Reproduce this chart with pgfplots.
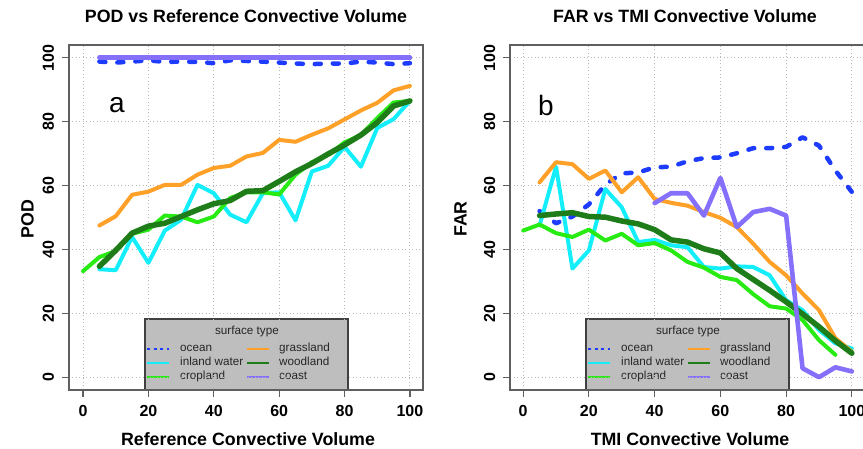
\documentclass[border=0pt]{standalone}
\usepackage{pgfplots}
\pgfplotsset{compat=1.18}
\usepackage{fontspec}
\setmainfont{Liberation Sans}

% series colours
\definecolor{cOcean}{RGB}{30,60,255}
\definecolor{cCoast}{RGB}{132,112,250}
\definecolor{cInland}{RGB}{20,238,250}
\definecolor{cCrop}{RGB}{40,235,20}
\definecolor{cGrass}{RGB}{255,160,40}
\definecolor{cWood}{RGB}{30,125,25}
\definecolor{legfill}{RGB}{190,190,190}
\definecolor{framecol}{RGB}{95,95,95}

\newcommand\tickfont{\fontsize{16}{18}\selectfont\bfseries}
\newcommand\labfont{\fontsize{17.8}{20}\selectfont\bfseries}
\newcommand\legfont{\fontsize{11.7}{13}\selectfont}

\pgfplotsset{
  panel/.style={
    scale only axis, height=345pt,
    ymin=-4, ymax=104,
    xtick={0,20,...,100}, ytick={0,20,...,100},
    tick pos=left,
    tick align=outside, major tick length=7pt,
    grid=major,
    grid style={draw=black!28, line width=0.9pt, dash pattern=on 1pt off 2.5pt},
    axis line style={draw=framecol, line width=1.4pt},
    tick style={draw=framecol, line width=1.2pt},
    /pgf/number format/assume math mode=true,
    ticklabel style={font=\tickfont},
    xticklabel style={anchor=base},
    xticklabel shift=20pt,
    yticklabel style={rotate=90, anchor=base},
    yticklabel shift=8pt,
    every axis plot/.append style={line cap=round, line join=round},
  },
  sOcean/.style={cOcean, line width=4.5pt, dash pattern=on 6pt off 12pt},
  sCoast/.style={cCoast, line width=4.6pt},
  sInland/.style={cInland, line width=4pt},
  sCrop/.style={cCrop, line width=4pt},
  sGrass/.style={cGrass, line width=4pt},
  sWood/.style={cWood, line width=5.5pt},
}

% legend block: #1 = left edge of the grey box
\newcommand\surfacelegend[1]{%
  \fill[legfill] (#1,59) rectangle (#1+203,130);
  \draw[black!75, line width=1.2pt] (#1,59) -- (#1,130) -- (#1+203,130) -- (#1+203,59);
  \node[font=\legfont, text=black!85, inner sep=0pt] at (#1+102,118) {surface type};
  \draw[cOcean, line width=2pt, dash pattern=on 3pt off 3.5pt] (#1+2,100) -- (#1+24,100);
  \draw[cInland, line width=2pt] (#1+2,86) -- (#1+24,86);
  \draw[cCrop, line width=2pt] (#1+2,72) -- (#1+24,72);
  \draw[cGrass, line width=2pt] (#1+102,100) -- (#1+124,100);
  \draw[cWood, line width=2pt] (#1+102,86) -- (#1+124,86);
  \draw[cCoast, line width=2pt] (#1+102,72) -- (#1+124,72);
  \begin{scope}[every node/.style={font=\legfont, text=black!85, inner sep=0pt, anchor=mid west}]
    \node at (#1+35,100) {ocean};
    \node at (#1+35,86) {inland water};
    \node at (#1+35,72) {cropland};
    \node at (#1+134,100) {grassland};
    \node at (#1+134,86) {woodland};
    \node at (#1+134,72) {coast};
  \end{scope}
}

\begin{document}
\begin{tikzpicture}[x=1pt, y=1pt]
\useasboundingbox (0,0) rectangle (863,449);
\clip (0,0) rectangle (863,449);

\surfacelegend{145}
\surfacelegend{586}

% ---------------- POD panel ----------------
\begin{axis}[panel, at={(69pt,59pt)}, anchor=south west,
  width=354pt, xmin=-4.3, xmax=104]
\addplot[sOcean] coordinates {
 (5,98.8) (10,98.5) (15,98.8) (20,99.2) (25,98.7) (30,98.8) (35,98.7)
 (40,98.3) (45,99.2) (50,99.0) (55,98.8) (60,98.5) (65,98.2) (70,98.0)
 (75,98.2) (80,98.2) (85,98.8) (90,98.5) (95,98.0) (100,98.3)};
\addplot[sInland] coordinates {
 (5,33.8) (10,33.5) (15,43.9) (20,35.8) (25,45.9) (30,49.3) (35,60.2)
 (40,57.6) (45,50.9) (50,48.5) (55,57.6) (60,57.9) (65,49.1) (70,64.4)
 (75,66.2) (80,72.1) (85,65.9) (90,78.0) (95,80.8) (100,86.5)};
\addplot[sCrop] coordinates {
 (0,33.2) (5,37.6) (10,39.5) (15,44.9) (20,46.2) (25,50.6) (30,50.3)
 (35,48.5) (40,50.3) (45,56.1) (50,57.9) (55,57.9) (60,57.2) (65,63.4)
 (70,67.3) (75,69.6) (80,73.5) (85,75.8) (90,81.1) (95,86.0) (100,86.5)};
\addplot[sGrass] coordinates {
 (5,47.5) (10,50.4) (15,57.1) (20,58.1) (25,60.2) (30,60.2) (35,63.4)
 (40,65.5) (45,66.2) (50,69.1) (55,70.2) (60,74.3) (65,73.7) (70,75.9)
 (75,77.9) (80,80.7) (85,83.5) (90,85.9) (95,89.8) (100,91.2)};
\addplot[sWood] coordinates {
 (5,34.7) (10,39.7) (15,45.1) (20,47.3) (25,48.2) (30,50.3) (35,52.4)
 (40,54.3) (45,55.3) (50,58.2) (55,58.4) (60,61.3) (65,64.3) (70,66.9)
 (75,69.9) (80,72.7) (85,75.8) (90,79.7) (95,84.9) (100,86.5)};
\addplot[sCoast] coordinates {
 (5,100) (10,100) (15,100) (20,100) (25,100) (30,100) (35,100)
 (40,100) (45,100) (50,100) (55,100) (60,100) (65,100) (70,100)
 (75,100) (80,100) (85,100) (90,100) (95,100) (100,100)};
\end{axis}

% ---------------- FAR panel ----------------
\begin{axis}[panel, at={(510pt,59pt)}, anchor=south west,
  width=355pt, xmin=-4, xmax=104]
\addplot[sOcean] coordinates {
 (5,52.0) (10,48.2) (15,50.3) (20,54.1) (25,60.3) (30,63.8) (35,64.1)
 (40,65.7) (45,65.9) (50,67.6) (55,68.6) (60,68.8) (65,70.1) (70,71.7)
 (75,71.7) (80,72.1) (85,75.1) (90,72.5) (95,64.7) (100,58.0)};
\addplot[sInland] coordinates {
 (5,47.5) (10,65.9) (15,34.0) (20,39.7) (25,58.9) (30,53.2) (35,42.3)
 (40,43.0) (45,41.3) (50,40.7) (55,34.5) (60,34.0) (65,34.7) (70,34.5)
 (75,31.9) (80,24.1) (85,21.0) (90,14.8) (95,10.6) (100,9.0)};
\addplot[sCrop] coordinates {
 (0,45.9) (5,47.8) (10,45.1) (15,43.9) (20,46.2) (25,42.8) (30,44.9)
 (35,41.3) (40,42.0) (45,39.7) (50,36.1) (55,34.3) (60,31.4) (65,30.4)
 (70,26.0) (75,22.2) (80,21.5) (85,17.9) (90,11.6) (95,7.0)};
\addplot[sGrass] coordinates {
 (5,61.0) (10,67.3) (15,66.7) (20,62.1) (25,64.7) (30,57.9) (35,62.6)
 (40,55.8) (45,54.6) (50,53.7) (55,51.7) (60,49.9) (65,47.0) (70,41.8)
 (75,36.1) (80,31.9) (85,26.2) (90,21.0) (95,12.2) (100,8.0)};
\addplot[sWood] coordinates {
 (5,50.6) (10,51.1) (15,51.5) (20,50.3) (25,50.1) (30,48.9) (35,48.0)
 (40,46.2) (45,43.0) (50,42.3) (55,40.2) (60,38.9) (65,34.0) (70,30.6)
 (75,27.2) (80,23.6) (85,19.8) (90,15.8) (95,11.4) (100,7.5)};
\addplot[sCoast] coordinates {
 (40,54.5) (45,57.6) (50,57.6) (55,50.6) (60,62.4) (65,47.0) (70,51.7)
 (75,52.7) (80,50.6) (85,2.8) (90,0.0) (95,3.1) (100,1.8)};
\end{axis}

% titles, axis labels and panel letters
\node[font=\labfont, anchor=base] at (246,426) {POD vs Reference Convective Volume};
\node[font=\labfont, anchor=base] at (685,426) {FAR vs TMI Convective Volume};
\node[font=\labfont, anchor=base] at (248,3) {Reference Convective Volume};
\node[font=\labfont, anchor=base] at (690,3) {TMI Convective Volume};
\node[font=\labfont, anchor=base, rotate=90] at (33.5,230) {POD};
\node[font=\labfont, anchor=base, rotate=90] at (466.5,230) {FAR};
\node[font=\fontsize{28}{30}\selectfont] at (117,344) {a};
\node[font=\fontsize{28}{30}\selectfont] at (546,344) {b};
\end{tikzpicture}
\end{document}
